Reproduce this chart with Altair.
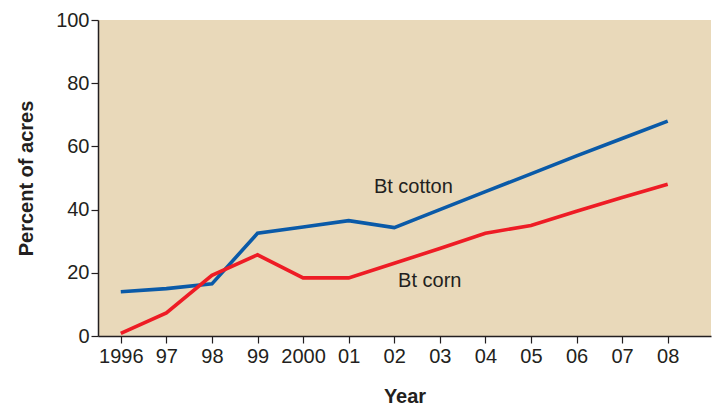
import altair as alt
import pandas as pd

years = [1996, 1997, 1998, 1999, 2000, 2001, 2002, 2003, 2004, 2005, 2006, 2007, 2008]
tick_labels = ["1996", "97", "98", "99", "2000", "01", "02", "03", "04", "05", "06", "07", "08"]
bt_cotton = [14, 15, 16.5, 32.5, 34.5, 36.5, 34.3, 40, 45.7, 51.3, 57, 62.5, 68]
bt_corn = [0.8, 7.3, 19.2, 25.7, 18.4, 18.4, 23, 27.7, 32.5, 35, 39.5, 43.8, 48]
series_names = ["Bt cotton", "Bt corn"]
label_x = [2002.42, 2002.78]
label_y = [47.3, 17.4]
y_ticks = [0, 20, 40, 60, 80, 100]

rows = []
for name, vals in zip(series_names, [bt_cotton, bt_corn]):
    for yr, v in zip(years, vals):
        rows.append({"Year": yr, "Value": v, "Series": name})
df = pd.DataFrame(rows)
lab = pd.DataFrame({"x": label_x, "y": label_y, "text": series_names})

label_map = "{" + ",".join(f"'{y}':'{l}'" for y, l in zip(years, tick_labels)) + "}"

font = "Liberation Sans"

xscale = alt.Scale(domain=[1995.5, 2008.95], nice=False, zero=False)
yscale = alt.Scale(domain=[0, 100], nice=False)

lines = alt.Chart(df).mark_line(strokeWidth=3.6, strokeCap="butt", strokeJoin="miter").encode(
    x=alt.X("Year:Q", scale=xscale, title="Year",
            axis=alt.Axis(values=years, labelExpr=f"{label_map}[''+datum.value]",
                          tickSize=7, labelPadding=3, titlePadding=20, grid=False)),
    y=alt.Y("Value:Q", scale=yscale, title="Percent of acres",
            axis=alt.Axis(values=y_ticks, tickSize=7, labelPadding=2, titlePadding=19, grid=False)),
    color=alt.Color("Series:N", scale=alt.Scale(domain=series_names, range=["#0A5AA8", "#EE1C25"]), legend=None),
)

texts = alt.Chart(lab).mark_text(font=font, fontSize=20, color="#231F20").encode(
    x=alt.X("x:Q", scale=xscale),
    y=alt.Y("y:Q", scale=yscale),
    text="text:N",
)

chart = alt.layer(lines, texts).properties(
    width=613, height=316,
    autosize=alt.AutoSizeParams(type="none"),
    padding={"left": 90, "top": 12, "right": 2, "bottom": 70},
    background="white",
).configure_view(
    fill="#E9D9BA", stroke=None
).configure_axis(
    labelFont=font, titleFont=font, labelFontSize=20, titleFontSize=20,
    labelColor="#231F20", titleColor="#231F20", titleFontWeight="bold",
    domainColor="#231F20", tickColor="#231F20", domainWidth=1.5, tickWidth=1.2,
)

chart.save("out.html", embed_options={"renderer": "svg", "actions": False})
